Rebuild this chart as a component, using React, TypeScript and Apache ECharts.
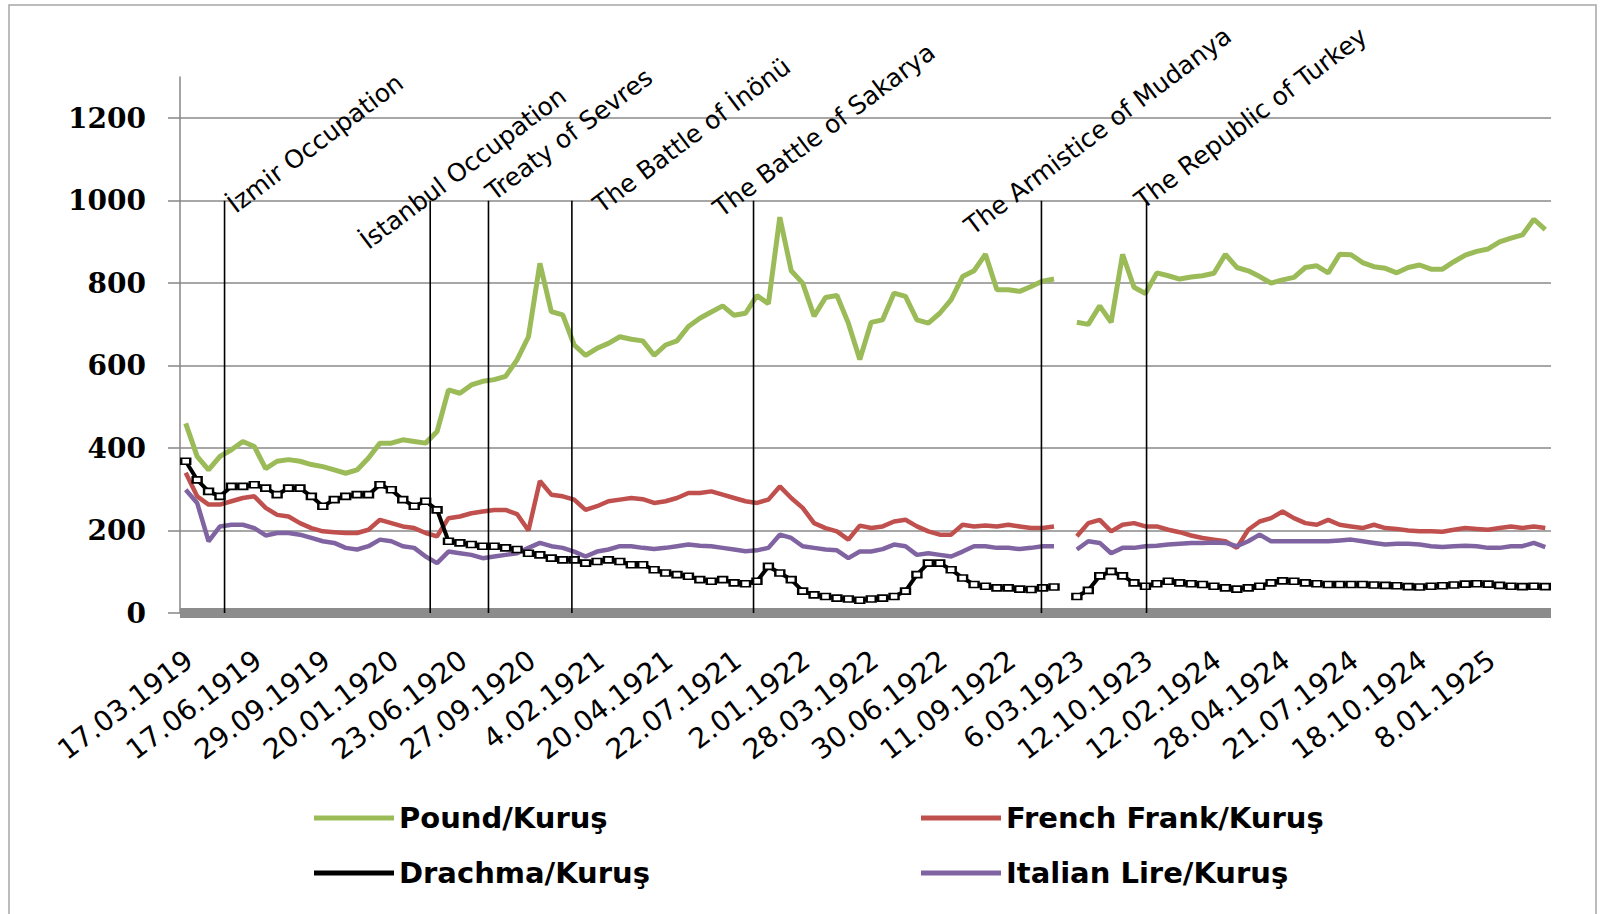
import React, { useEffect, useRef } from "react";
import * as echarts from "echarts";

// ---- x-axis date labels (every 6th sample carries a label) ----
const dateLabels = [
  "17.03.1919", "17.06.1919", "29.09.1919", "20.01.1920", "23.06.1920",
  "27.09.1920", "4.02.1921", "20.04.1921", "22.07.1921", "2.01.1922",
  "28.03.1922", "30.06.1922", "11.09.1922", "6.03.1923", "12.10.1923",
  "12.02.1924", "28.04.1924", "21.07.1924", "18.10.1924", "8.01.1925",
];
const SAMPLES_PER_LABEL = 6;

// ---- series values (Kuruş) ----
const pound = [
  460, 380, 347, 380, 396, 416, 404, 350, 368, 372,
  368, 360, 355, 347, 339, 347, 376, 412, 412, 420,
  416, 412, 440, 541, 533, 553, 562, 566, 574, 614,
  670, 848, 731, 723, 650, 625, 642, 654, 670, 664,
  660, 625, 650, 660, 695, 715, 730, 745, 722, 727,
  770, 750, 960, 830, 800, 720, 765, 770, 703, 615,
  705, 711, 776, 768, 711, 703, 727, 760, 816, 830,
  870, 784, 784, 780, 792, 805, 810, null, 705, 700,
  745, 705, 870, 790, 775, 825, 818, 810, 815, 818,
  824, 870, 838, 830, 816, 800, 808, 814, 838, 842,
  825, 870, 869, 850, 840, 836, 825, 838, 844, 834,
  834, 852, 868, 877, 883, 900, 909, 917, 955, 930,
];
const frenchFrank = [
  340, 283, 263, 263, 271, 279, 283, 255, 238, 234,
  218, 206, 198, 196, 194, 194, 202, 226, 218, 210,
  206, 194, 186, 230, 234, 242, 246, 250, 250, 240,
  200, 320, 287, 283, 275, 250, 259, 271, 275, 279,
  276, 267, 271, 279, 291, 291, 295, 287, 279, 271,
  267, 275, 307, 279, 255, 218, 206, 198, 178, 212,
  206, 210, 222, 226, 210, 198, 190, 190, 214, 210,
  212, 210, 214, 210, 206, 206, 210, null, 186, 218,
  226, 198, 214, 218, 210, 210, 202, 196, 188, 182,
  178, 174, 158, 202, 222, 230, 246, 230, 218, 214,
  226, 214, 210, 206, 214, 206, 204, 200, 198, 198,
  197, 202, 206, 204, 202, 206, 210, 206, 210, 206,
];
const drachma = [
  368, 323, 295, 283, 307, 307, 311, 303, 287, 303,
  303, 283, 259, 275, 283, 287, 287, 311, 299, 275,
  259, 271, 250, 174, 170, 166, 162, 162, 158, 154,
  145, 141, 133, 129, 129, 121, 125, 129, 125, 117,
  117, 105, 97, 93, 89, 81, 77, 81, 73, 71,
  77, 113, 97, 81, 53, 44, 40, 36, 34, 31,
  34, 36, 40, 53, 93, 121, 121, 105, 85, 69,
  65, 61, 61, 58, 57, 61, 63, null, 40, 55,
  90, 101, 90, 73, 65, 71, 77, 73, 71, 69,
  65, 61, 58, 61, 65, 73, 78, 77, 73, 71,
  69, 69, 69, 69, 68, 67, 66, 64, 63, 65,
  66, 68, 70, 71, 70, 67, 65, 64, 65, 64,
];
const italianLire = [
  299, 267, 174, 210, 214, 214, 206, 188, 194, 194,
  190, 182, 174, 170, 158, 154, 162, 178, 174, 162,
  158, 137, 121, 149, 145, 141, 133, 137, 141, 145,
  158, 170, 162, 158, 149, 137, 149, 154, 162, 162,
  158, 155, 158, 162, 166, 163, 162, 158, 154, 150,
  152, 158, 190, 182, 162, 158, 154, 152, 133, 149,
  149, 155, 166, 162, 141, 145, 141, 137, 149, 162,
  162, 158, 158, 155, 158, 162, 162, null, 154, 174,
  170, 145, 158, 158, 162, 163, 166, 168, 170, 170,
  171, 170, 162, 174, 190, 174, 174, 174, 174, 174,
  174, 176, 178, 174, 170, 166, 168, 168, 166, 162,
  160, 162, 163, 162, 158, 158, 162, 162, 170, 160,
];

// ---- y-axis tick labels ----
const yTicks = [0, 200, 400, 600, 800, 1000, 1200];

// ---- historical events (position in sample units, label anchor in sample units / Kuruş) ----
const eventNames = [
  "İzmir Occupation",
  "İstanbul Occupation",
  "Treaty of Sevres",
  "The Battle of İnönü",
  "The Battle of Sakarya",
  "The Armistice of Mudanya",
  "The Republic of Turkey",
];
const eventPos = [3.9, 21.9, 27.0, 34.3, 50.2, 75.4, 84.6];
const eventLineTop = [1000, 1000, 1000, 1000, 1000, 1000, 1000];
const eventLabelU = [5.1, 16.7, 27.7, 37.1, 47.6, 69.6, 84.5];
const eventLabelV = [960, 872, 990, 960, 950, 907, 970];

const seriesNames = ["Pound/Kuruş", "French Frank/Kuruş", "Drachma/Kuruş", "Italian Lire/Kuruş"];
const seriesColors = ["#9BBB59", "#C0504D", "#000000", "#8064A2"];

const categories = dateLabels.flatMap((d) =>
  Array.from({ length: SAMPLES_PER_LABEL }, (_, j) => (j === 0 ? d : `${d} (${j + 1})`))
);

const ANGLE = (37 * Math.PI) / 180;
const gridColors = [...yTicks.map(() => "#8a8a8a"), "rgba(0,0,0,0)"];

export default function App() {
  const ref = useRef<HTMLDivElement>(null);

  useEffect(() => {
    if (!ref.current) return;
    const chart = echarts.init(ref.current, null, { renderer: "svg" });

    const legendText = { color: "#000", fontFamily: "DejaVu Sans", fontWeight: "bold", fontSize: 29, lineHeight: 30 };
    const legendItem = (i: number) => ({
      name: seriesNames[i],
      icon: "rect",
      itemStyle: { color: seriesColors[i], borderWidth: 0 },
    });

    const option: any = {
      animation: false,
      backgroundColor: "#ffffff",
      grid: { left: 180, right: 51, top: 77, bottom: 301, containLabel: false, outerBoundsMode: "none" },
      xAxis: [
        {
          type: "category",
          data: categories,
          boundaryGap: true,
          offset: 5,
          axisLine: { show: true, lineStyle: { color: "#8c8c8c", width: 10, cap: "butt" } },
          axisTick: { show: false },
          axisLabel: {
            interval: SAMPLES_PER_LABEL - 1,
            rotate: 37,
            align: "right",
            verticalAlign: "top",
            margin: 24,
            padding: [0, 6, 0, 0],
            color: "#000",
            fontFamily: "DejaVu Sans",
            fontSize: 28,
          },
          splitLine: { show: false },
        },
        { type: "value", min: 0, max: categories.length, show: false },
      ],
      yAxis: {
        type: "value",
        min: 0,
        max: 1300,
        interval: 200,
        axisLine: { show: true, lineStyle: { color: "#868686", width: 1.5 } },
        axisTick: { show: true, length: 12, customValues: yTicks, lineStyle: { color: "#868686", width: 1.5 } },
        axisLabel: {
          customValues: yTicks,
          formatter: (v: number) => String(v),
          margin: 34,
          color: "#000",
          fontFamily: "DejaVu Serif",
          fontWeight: "bold",
          fontSize: 28,
        },
        splitLine: { show: true, lineStyle: { color: gridColors, width: 1.6 } },
      },
      legend: [
        {
          data: [legendItem(0), legendItem(2)],
          orient: "vertical",
          left: 314,
          top: 803,
          padding: 0,
          itemWidth: 80,
          itemHeight: 5,
          itemGap: 25,
          textStyle: legendText,
        },
        {
          data: [legendItem(1), legendItem(3)],
          orient: "vertical",
          left: 921,
          top: 803,
          padding: 0,
          itemWidth: 80,
          itemHeight: 5,
          itemGap: 25,
          textStyle: legendText,
        },
      ],
      graphic: [
        {
          type: "rect",
          silent: true,
          shape: { x: 9, y: 5, width: 1587, height: 930 },
          style: { fill: "none", stroke: "#a6a6a6", lineWidth: 1.5 },
        },
      ],
      series: [
        {
          name: seriesNames[0],
          type: "line",
          data: pound,
          symbol: "none",
          connectNulls: false,
          lineStyle: { color: seriesColors[0], width: 5 },
          itemStyle: { color: seriesColors[0] },
        },
        {
          name: seriesNames[1],
          type: "line",
          data: frenchFrank,
          symbol: "none",
          connectNulls: false,
          lineStyle: { color: seriesColors[1], width: 4.5 },
          itemStyle: { color: seriesColors[1] },
        },
        {
          name: seriesNames[2],
          type: "line",
          data: drachma,
          symbol: "rect",
          symbolSize: [9, 6],
          showSymbol: true,
          showAllSymbol: true,
          connectNulls: false,
          lineStyle: { color: seriesColors[2], width: 4 },
          itemStyle: { color: "#ffffff", borderColor: "#000000", borderWidth: 2 },
        },
        {
          name: seriesNames[3],
          type: "line",
          data: italianLire,
          symbol: "none",
          connectNulls: false,
          lineStyle: { color: seriesColors[3], width: 4.5 },
          itemStyle: { color: seriesColors[3] },
        },
        {
          name: "events",
          type: "custom",
          xAxisIndex: 1,
          yAxisIndex: 0,
          clip: false,
          silent: true,
          z: 5,
          encode: { x: 0, y: 1 },
          data: eventNames.map((_, i) => [eventPos[i], eventLineTop[i], eventLabelU[i], eventLabelV[i]]),
          renderItem: (params: any, api: any) => {
            const idx = params.dataIndex;
            const p0 = api.coord([api.value(0), 0]);
            const p1 = api.coord([api.value(0), api.value(1)]);
            const t = api.coord([api.value(2), api.value(3)]);
            return {
              type: "group",
              children: [
                {
                  type: "line",
                  shape: { x1: p0[0], y1: p0[1], x2: p1[0], y2: p1[1] },
                  style: { stroke: "#000", lineWidth: 1.6 },
                },
                {
                  type: "text",
                  x: t[0],
                  y: t[1],
                  rotation: ANGLE,
                  style: {
                    text: eventNames[idx],
                    fill: "#000",
                    fontFamily: "DejaVu Sans",
                    fontSize: 25,
                    align: "left",
                    verticalAlign: "bottom",
                  },
                },
              ],
            };
          },
        },
      ],
    };

    chart.setOption(option);
    return () => chart.dispose();
  }, []);

  return (
    <div
      ref={ref}
      style={{ position: "fixed", left: 0, top: 0, width: 1602, height: 914, background: "#fff" }}
    />
  );
}
